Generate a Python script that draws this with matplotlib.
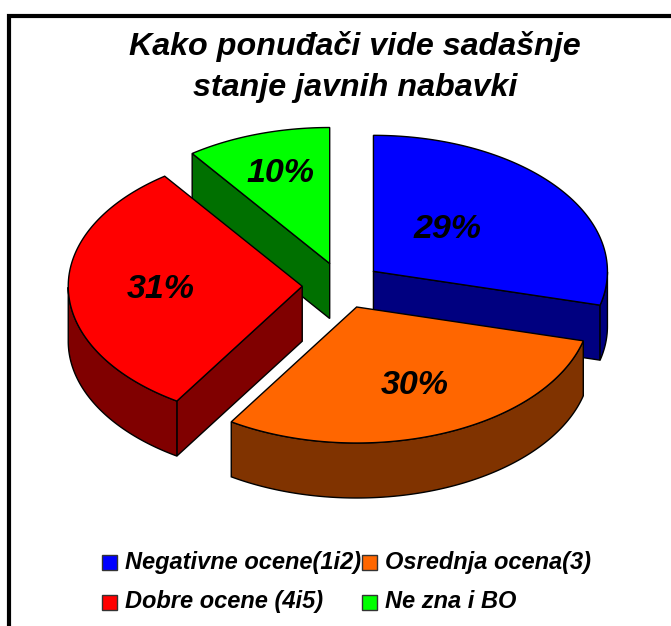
#!/usr/bin/env python3

import numpy as np
import matplotlib
matplotlib.use( 'Agg' )
import matplotlib.pyplot as plt
from matplotlib.patches import Polygon, Rectangle

plt.rcParams['font.family'] = ['Liberation Sans', 'DejaVu Sans']

title = 'Kako ponuđači vide sadašnje\nstanje javnih nabavki'

categories = [ 'Negativne ocene(1i2)', 'Osrednja ocena(3)',
               'Dobre ocene (4i5)', 'Ne zna i BO' ]
values     = [ 29, 30, 31, 10 ]
colors     = [ '#0000ff', '#ff6600', '#ff0000', '#00ff00' ]
darkColors = [ '#000080', '#803300', '#800000', '#007000' ]

# pixel layout of the fake 3D pie
cx, cy  = 342.0, 285.5
rx, ry  = 234.0, 136.0
depth   = 55.0
explode = 0.17

labelXY  = [ (448, 230), (415, 386), (161, 289), (280, 173) ]
legendXY = [ (102, 562), (362, 562), (102, 602), (362, 602) ]
legendBaseline = [ 569, 569, 608, 608 ]

# back slices first
drawOrder = [ 3, 0, 2, 1 ]

edges = np.cumsum( [ 0 ] + values ) / np.sum( values ) * 2.0 * np.pi


def ellipsePoints( x0, y0, t ):
    return np.column_stack( ( x0 + rx * np.sin( t ), y0 - ry * np.cos( t ) ) )


def drawSlice( ax, i ):

    t0, t1 = edges[i], edges[i+1]
    tMid = 0.5 * ( t0 + t1 )
    x0 = cx + explode * rx * np.sin( tMid )
    y0 = cy - explode * ry * np.cos( tMid )

    t = np.linspace( t0, t1, 200 )
    arc = ellipsePoints( x0, y0, t )
    apex = np.array( [ x0, y0 ] )
    down = np.array( [ 0.0, depth ] )

    # radial walls, only when they face the viewer
    for ang, sign in ( ( t0, -1.0 ), ( t1, 1.0 ) ):
        if sign * np.sin( ang ) > 1.0e-6:
            p = ellipsePoints( x0, y0, np.array( [ ang ] ) )[0]
            ax.add_patch( Polygon( [ apex, p, p + down, apex + down ],
                                   fc = darkColors[i], ec = 'k', lw = 1.0 ) )

    # outer rim, front half of the ellipse
    front = ( t > 0.5 * np.pi ) & ( t < 1.5 * np.pi )
    if front.any():
        rim = arc[front]
        ax.add_patch( Polygon( np.vstack( ( rim, rim[::-1] + down ) ),
                               fc = darkColors[i], ec = 'k', lw = 1.0 ) )

    ax.add_patch( Polygon( np.vstack( ( apex, arc ) ),
                           fc = colors[i], ec = 'k', lw = 1.0 ) )


fig = plt.figure( figsize = ( 6.71, 6.26 ), dpi = 100 )
ax = fig.add_axes( [ 0, 0, 1, 1 ] )
ax.set_xlim( 0, 671 )
ax.set_ylim( 626, 0 )
ax.axis( 'off' )

# frame runs off the right and bottom of the picture
ax.plot( [ 9, 9, 680 ], [ 640, 16, 16 ], color = 'k', lw = 3.0,
         solid_joinstyle = 'miter' )

ax.text( 355, 67, title, ha = 'center', va = 'center', fontsize = 23.2,
         fontweight = 'bold', fontstyle = 'italic', linespacing = 1.44 )

for i in drawOrder:
    drawSlice( ax, i )

for i in range( len( values ) ):
    ax.text( labelXY[i][0], labelXY[i][1], '{:d}%'.format( values[i] ),
             ha = 'center', va = 'center', fontsize = 24.5,
             fontweight = 'bold', fontstyle = 'italic' )

for i in range( len( categories ) ):
    x, y = legendXY[i]
    ax.add_patch( Rectangle( ( x, y - 7.5 ), 15, 15, fc = colors[i],
                             ec = '#333333', lw = 1.0 ) )
    ax.text( x + 23, legendBaseline[i], categories[i], ha = 'left',
             va = 'baseline', fontsize = 17, fontweight = 'bold',
             fontstyle = 'italic' )

fig.savefig( 'out.png', dpi = 100 )
